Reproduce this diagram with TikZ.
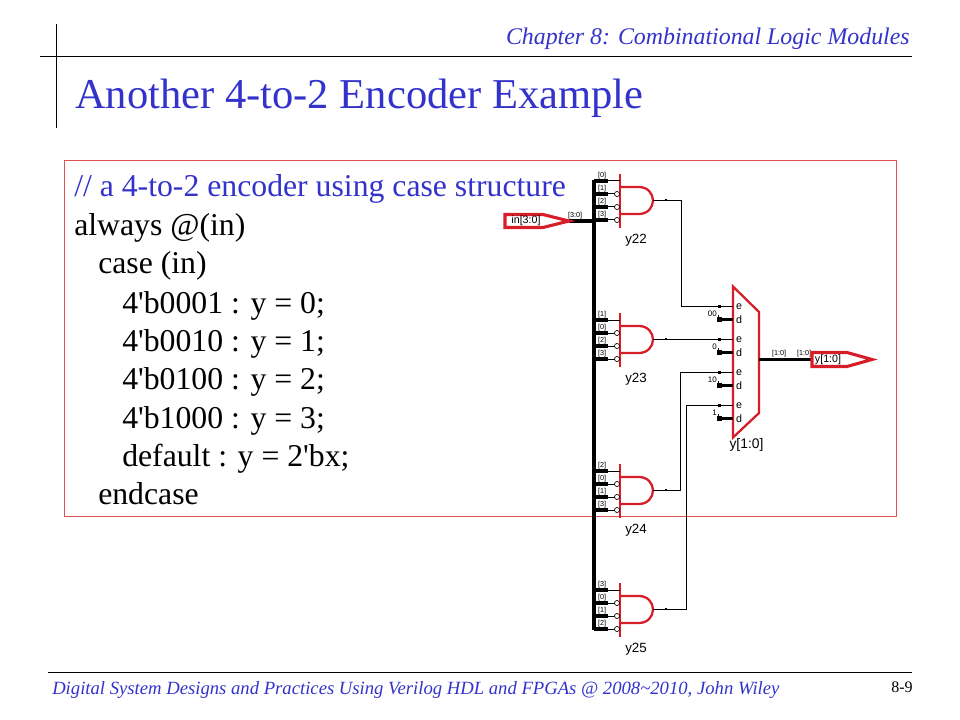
\documentclass[tikz,border=0pt]{standalone}
\usepackage{fontspec}
\setmainfont{Liberation Serif}
\newfontfamily\labfont{Liberation Sans}
\definecolor{slideblue}{RGB}{51,51,204}
\definecolor{gatered}{RGB}{215,30,40}
\definecolor{framered}{RGB}{225,80,80}
\tikzset{
  x=0.75pt,y=-0.75pt,
  txt/.style={inner sep=0pt,anchor=base west},
  code/.style={txt,font=\fontsize{23.8}{24}\selectfont},
  rule/.style={draw=black,line width=0.6pt},
  wire/.style={draw=black,line width=0.75pt},
  buswire/.style={draw=black,line width=2.4pt},
  redshape/.style={draw=gatered,line width=1.7pt,line join=miter},
  portshape/.style={draw=gatered,line width=2.3pt,line join=miter},
  tiny/.style={inner sep=0pt,font=\labfont\fontsize{5.4}{5.4}\selectfont},
  small/.style={inner sep=0pt,font=\labfont\fontsize{10}{10}\selectfont},
  pinlab/.style={inner sep=0pt,font=\labfont\fontsize{8}{8}\selectfont},
  dotmark/.style={fill=black,draw=none,minimum size=2.2pt,inner sep=0pt,rectangle},
  bigmark/.style={fill=black,draw=none,minimum size=3.6pt,inner sep=0pt,rectangle},
  bubble/.style={circle,draw=black,line width=0.5pt,fill=white,minimum size=3.8pt,inner sep=0pt},
}
% #1 name, #2 top of bar, #3..#6 bit labels
\newcommand{\andgate}[6]{%
  \coordinate (#1out) at (653,#2+26.5);
  \draw[redshape] (620,#2) -- (620,#2+54);
  \draw[redshape] (620,#2+13) -- (639,#2+13) .. controls (648,#2+13) and (653,#2+20) .. (653,#2+26.5)
     .. controls (653,#2+33) and (648,#2+40) .. (639,#2+40) -- (620,#2+40);
  \draw[buswire] (594,#2+7) -- (608,#2+7);
  \draw[wire] (608,#2+7) -- (620,#2+7);
  \node[tiny] (#1a) at (602,#2+2) {[#3]};
  \foreach \yo/\lab/\nm in {20/#4/b,33/#5/c,46/#6/d}{
    \draw[buswire] (594,#2+\yo) -- (608,#2+\yo);
    \draw[wire] (608,#2+\yo) -- (615,#2+\yo);
    \node[bubble] (#1\nm) at (617,#2+\yo) {};
    \node[tiny] at (602,#2+\yo-5) {[\lab]};
  }
  \node[small] (#1lab) at (636,#2+66) {#1};
  \node[dotmark] (#1dot) at (666,#2+26) {};
}
\begin{document}
\begin{tikzpicture}
\useasboundingbox (0,0) rectangle (960,720);
\fill[white] (0,0) rectangle (960,720);
% slide furniture
\coordinate (hl) at (40,56); \coordinate (hr) at (912,56);
\coordinate (vt) at (56,24); \coordinate (vb) at (56,128);
\coordinate (fl) at (48,672); \coordinate (fr) at (912,672);
\draw[rule] (hl) -- (hr);
\draw[rule] (vt) -- (vb);
\draw[rule] (fl) -- (fr);
\node[inner sep=0pt,anchor=base east,text=slideblue,font=\itshape\fontsize{17.9}{18}\selectfont] (chap) at (910,45) {Chapter 8: Combinational Logic Modules};
\node[txt,text=slideblue,font=\fontsize{31.9}{32}\selectfont] (title) at (75,109) {Another 4-to-2 Encoder Example};
\node[txt,text=slideblue,font=\itshape\fontsize{14}{14}\selectfont] (foot) at (52,694) {Digital System Designs and Practices Using Verilog HDL and FPGAs @ 2008\textasciitilde 2010, John Wiley};
\node[inner sep=0pt,anchor=base,font=\fontsize{12}{12}\selectfont] (page) at (902,692) {8-9};
% code box
\draw[framered,line width=0.6pt] (64.5,160.5) rectangle (896.5,516.5);
\node[code,text=slideblue] (l1) at (74,197) {// a 4-to-2 encoder using case structure};
\node[code] (l2) at (74,236) {always @(in)};
\node[code] (l3) at (98,274) {case (in)};
\node[code] (l4) at (122,313) {4\textquotesingle b0001 : y = 0;};
\node[code] (l5) at (122,351) {4\textquotesingle b0010 : y = 1;};
\node[code] (l6) at (122,389) {4\textquotesingle b0100 : y = 2;};
\node[code] (l7) at (122,428) {4\textquotesingle b1000 : y = 3;};
\node[code] (l8) at (122,466) {default : y = 2\textquotesingle bx;};
\node[code] (l9) at (98,504) {endcase};
% input port and bus
\coordinate (bustop) at (594,180); \coordinate (busbot) at (594,630);
\coordinate (inport) at (569,221); \coordinate (busin) at (594,221);
\draw[buswire,line width=2.6pt] (bustop) -- (busbot);
\draw[buswire] (inport) -- (busin);
\draw[portshape] (505,214.5) -- (543,214.5) -- (569,221) -- (543,227.5) -- (505,227.5) -- cycle;
\node[pinlab] (inlab) at (526,221) {in[3:0]};
\node[tiny] (inbit) at (575,216) {[3:0]};
% gates
\andgate{y22}{174}{0}{1}{2}{3}
\andgate{y23}{313}{1}{0}{2}{3}
\andgate{y24}{464}{2}{0}{1}{3}
\andgate{y25}{583}{3}{0}{1}{2}
% mux
\draw[redshape] (733,286.5) -- (759,312) -- (759,413) -- (733,437.5) -- cycle;
\foreach \nm/\ey/\val in {1/306.5/00,2/339.5/0,3/372.5/10,4/405.5/1}{
  \coordinate (e\nm) at (733,\ey);
  \coordinate (d\nm) at (733,\ey+13);
  \node[dotmark] (edot\nm) at (719.5,\ey) {};
  \node[bigmark] (dmark\nm) at (719.5,\ey+13) {};
  \draw[buswire] (dmark\nm) -- (d\nm);
  \draw[wire] (718,\ey+13) -- (718,\ey+8);
  \node[tiny,anchor=east,font=\labfont\fontsize{6}{6}\selectfont] at (717,\ey+7.5) {\val};
  \node[pinlab] at (739,\ey+0.5) {e};
  \node[pinlab] at (739,\ey+13) {d};
}
\coordinate (c1) at (681,306.5);
\coordinate (c3) at (680,372.5);
\coordinate (c4) at (686.5,405.5);
\draw[wire] (y22out) -| (c1) -- (e1);
\draw[wire] (y23out) -- (e2);
\draw[wire] (y24out) -| (c3) -- (e3);
\draw[wire] (y25out) -| (c4) -- (e4);
\node[small,font=\labfont\fontsize{10.4}{10.4}\selectfont] (muxlab) at (746.5,444.5) {y[1:0]};
% output
\coordinate (muxout) at (759,359.5); \coordinate (outport) at (812,359.5);
\draw[buswire] (muxout) -- (outport);
\node[tiny] (obit1) at (779,354) {[1:0]};
\node[tiny] (obit2) at (804,354) {[1:0]};
\draw[portshape] (812,352.5) -- (847,352.5) -- (872,359.5) -- (847,366.5) -- (812,366.5) -- cycle;
\node[pinlab] (outlab) at (828,360) {y[1:0]};
\end{tikzpicture}
\end{document}
